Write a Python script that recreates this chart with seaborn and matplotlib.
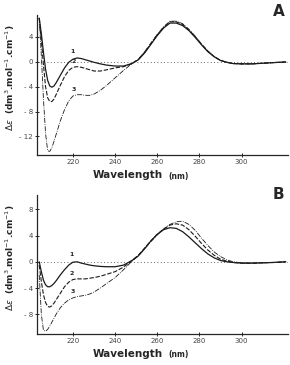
import numpy as np
import pandas as pd
import matplotlib
matplotlib.use("Agg")
import matplotlib.pyplot as plt
import seaborn as sns

# wavelengths (nm) shared by all curves
wavelength = [204, 205, 206, 207, 208, 209, 210, 211, 212, 214, 216, 218, 220, 222,
              224, 226, 228, 230, 233, 236, 240, 244, 248, 251, 254, 257, 260, 263,
              266, 269, 272, 275, 278, 281, 284, 287, 290, 293, 296, 300, 305, 310,
              315, 321]

# panel A
a_curve1 = [7.0, 4.5, 1.5, -1.2, -3.0, -3.9, -4.1, -3.9, -3.4, -2.2, -1.0, -0.1, 0.4, 0.6,
            0.5, 0.3, 0.1, -0.1, -0.35, -0.55, -0.7, -0.7, -0.3, 0.3, 1.4, 2.8, 4.2, 5.4,
            6.2, 6.2, 5.8, 5.0, 3.9, 2.7, 1.6, 0.8, 0.2, -0.1, -0.3, -0.35, -0.35, -0.25,
            -0.15, -0.05]
a_curve2 = [7.0, 3.5, -0.5, -4.0, -5.8, -6.4, -6.4, -6.0, -5.3, -3.8, -2.4, -1.4, -0.9, -0.8,
            -0.9, -1.1, -1.3, -1.5, -1.5, -1.3, -1.0, -0.8, -0.3, 0.35, 1.5, 2.9, 4.3, 5.5,
            6.4, 6.4, 6.0, 5.1, 4.0, 2.8, 1.7, 0.8, 0.2, -0.1, -0.3, -0.35, -0.35, -0.25,
            -0.15, -0.05]
a_curve3 = [7.0, 1.0, -6.0, -11.5, -14.3, -14.4, -13.8, -12.8, -11.7, -9.5, -7.7, -6.3, -5.5, -5.3,
            -5.3, -5.4, -5.4, -5.2, -4.6, -3.8, -2.6, -1.4, -0.3, 0.4, 1.6, 3.0, 4.4, 5.6,
            6.5, 6.5, 6.1, 5.2, 4.1, 2.8, 1.7, 0.8, 0.2, -0.1, -0.3, -0.35, -0.35, -0.25,
            -0.15, -0.05]

# panel B
b_curve1 = [0.0, -1.5, -2.8, -3.5, -3.8, -3.8, -3.6, -3.3, -2.9, -2.0, -1.2, -0.5, -0.05, 0.0,
            -0.2, -0.35, -0.5, -0.6, -0.7, -0.75, -0.75, -0.5, 0.2, 0.9, 2.0, 3.2, 4.2, 4.9,
            5.2, 5.1, 4.6, 3.8, 2.9, 2.0, 1.2, 0.6, 0.2, 0.0, -0.1, -0.2, -0.2, -0.15,
            -0.1, 0.0]
b_curve2 = [-0.5, -3.0, -5.0, -6.2, -6.8, -6.9, -6.7, -6.3, -5.8, -4.8, -3.8, -3.1, -2.7, -2.6,
            -2.6, -2.6, -2.5, -2.4, -2.2, -1.9, -1.5, -0.8, 0.2, 1.0, 2.1, 3.2, 4.2, 5.0,
            5.6, 5.8, 5.6, 4.9, 3.9, 2.8, 1.8, 1.0, 0.4, 0.1, -0.1, -0.2, -0.2, -0.15,
            -0.1, 0.0]
b_curve3 = [-2.0, -8.0, -10.4, -10.6, -10.3, -9.8, -9.2, -8.6, -8.0, -7.0, -6.3, -5.8, -5.5, -5.3,
            -5.2, -5.1, -4.9, -4.6, -4.0, -3.3, -2.4, -1.2, 0.1, 0.9, 2.0, 3.1, 4.1, 5.0,
            5.7, 6.1, 6.2, 5.7, 4.8, 3.6, 2.5, 1.5, 0.8, 0.3, 0.0, -0.15, -0.2, -0.15,
            -0.1, 0.0]

styles = {"1": dict(lw=0.9, ls="-"),
          "2": dict(lw=0.8, ls=(0, (4, 1.5))),
          "3": dict(lw=0.6, ls=(0, (6, 1.5, 1, 1.5)))}

panels = [
    ("A", {"1": a_curve1, "2": a_curve2, "3": a_curve3}, (-15, 7.5), [-12, -8, -4, 0, 4],
     {"1": (220, 1.3), "2": (220.5, -0.3), "3": (220.5, -4.8)}, 1.075),
    ("B", {"1": b_curve1, "2": b_curve2, "3": b_curve3}, (-11, 10.2), [-8, -4, 0, 4, 8],
     {"1": (219.5, 0.7), "2": (219.5, -2.1), "3": (220, -4.9)}, 1.055),
]

sns.set_style("ticks")
plt.rcParams["font.family"] = ["DejaVu Sans"]

fig = plt.figure(figsize=(2.9, 3.65), dpi=100)
rects = [[0.128, 0.575, 0.865, 0.384], [0.128, 0.085, 0.865, 0.381]]

for rect, (letter, curves, ylim, yticks, lab_pos, let_y) in zip(rects, panels):
    ax = fig.add_axes(rect)
    for name, vals in curves.items():
        df = pd.DataFrame({"wl": wavelength, "de": vals})
        sns.lineplot(data=df, x="wl", y="de", ax=ax, color="#1a1a1a",
                     linewidth=styles[name]["lw"], linestyle=styles[name]["ls"])
        ax.text(lab_pos[name][0], lab_pos[name][1], name, fontsize=4.5,
                fontweight="bold", ha="center", va="bottom")
    ax.axhline(0, color="#333333", lw=0.6, ls=(0, (1, 3)))
    ax.set_xlim(203, 322)
    ax.set_ylim(*ylim)
    ax.set_xticks([220, 240, 260, 280, 300])
    ax.set_yticks(yticks)
    ax.set_yticklabels([("- " + str(abs(t))) if t < 0 else str(t) for t in yticks])
    ax.tick_params(direction="inout", length=3, width=0.7, labelsize=5, pad=1.5,
                   labelcolor="#444444")
    sns.despine(ax=ax)
    ax.spines["left"].set_linewidth(0.9)
    ax.spines["bottom"].set_linewidth(0.9)
    ax.set_xlabel("")
    ax.set_ylabel("")
    ax.text(0.5, -0.145, "Wavelength", transform=ax.transAxes, ha="right",
            va="center", fontsize=7.5, fontweight="bold")
    ax.text(0.525, -0.15, "(nm)", transform=ax.transAxes, ha="left",
            va="center", fontsize=5.5, fontweight="bold")
    ax.text(-0.105, 0.55, r"$\Delta\varepsilon$  (dm$^3$.mol$^{-1}$.cm$^{-1}$)",
            transform=ax.transAxes, rotation=90, ha="center", va="center",
            fontsize=6.5, fontweight="bold")
    ax.text(0.985, let_y, letter, transform=ax.transAxes, ha="right", va="top",
            fontsize=11, fontweight="bold")

fig.savefig("out.png", dpi=100)
